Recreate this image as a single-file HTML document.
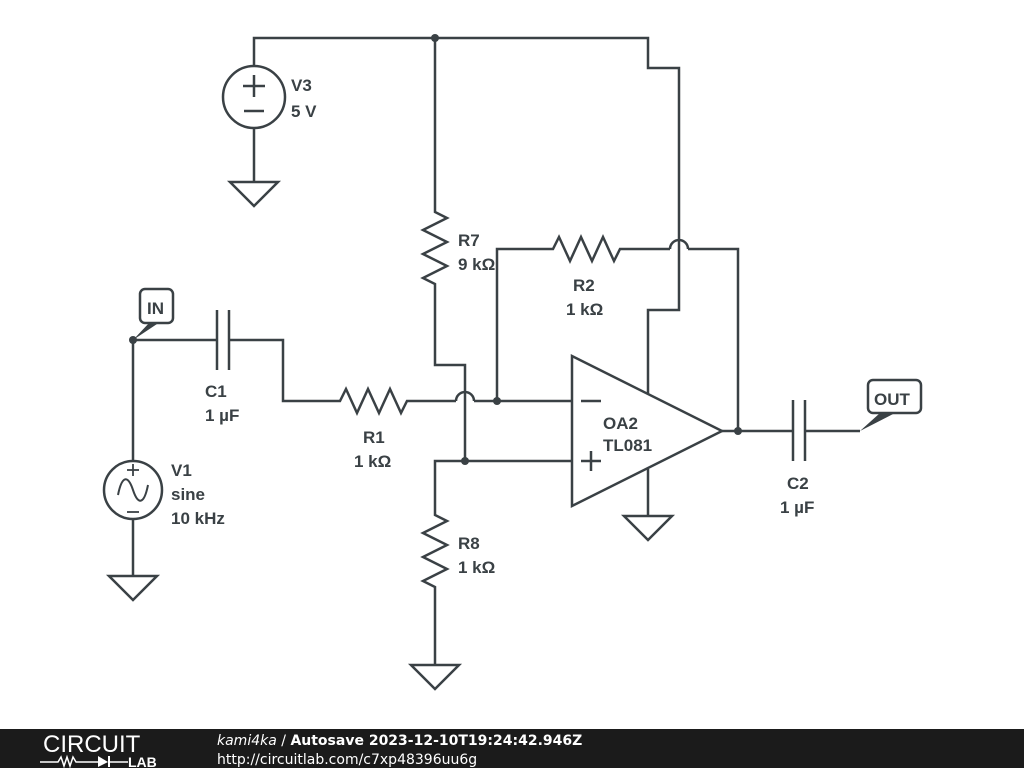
<!DOCTYPE html>
<html><head><meta charset="utf-8"><style>
html,body{margin:0;padding:0;background:#fff;}
svg{display:block;}
text{font-family:"Liberation Sans",sans-serif;font-weight:bold;fill:#3a4145;font-size:17px;}
</style></head><body>
<svg width="1024" height="768" viewBox="0 0 1024 768" xmlns="http://www.w3.org/2000/svg">
<rect width="1024" height="768" fill="#fff"/>
<g stroke="#3a4145" stroke-width="2.5" fill="none" stroke-linejoin="miter">
<polyline points="254,66 254,38 648,38 648,68 679,68 679,310 648,310 648,394"/>
<circle cx="254" cy="97" r="31"/>
<line x1="254" y1="128" x2="254" y2="182"/>
<line x1="243" y1="86" x2="265" y2="86"/><line x1="254" y1="75" x2="254" y2="97"/>
<line x1="244" y1="111" x2="264" y2="111"/>
<polygon points="230,182 278,182 254,206"/>
<polyline points="435,38 435,212 447,218 423,230 447,242 423,254 447,266 423,278 435,284 435,365 465,365 465,461"/>
<polyline points="133,340 217,340"/>
<line x1="217" y1="310" x2="217" y2="370"/><line x1="229" y1="310" x2="229" y2="370"/>
<polyline points="229,340 283,340 283,401 340,401 346,389 357,413 368,389 379,413 390,389 401,413 407,401 456,401"/>
<path d="M456,401 A9,9 0 0 1 474,401"/>
<polyline points="474,401 572,401"/>
<polyline points="497,401 497,249 553,249 559,237 570,261 581,237 592,261 603,237 614,261 620,249 670,249"/>
<path d="M670,249 A9,9 0 0 1 688,249"/>
<polyline points="688,249 738,249 738,431"/>
<polyline points="572,461 435,461 435,515 447,521 423,533 447,545 423,557 447,569 423,581 435,587 435,665"/>
<polygon points="411,665 459,665 435,689"/>
<polygon points="572,356 572,506 722,431"/>
<line x1="581" y1="401" x2="601" y2="401"/>
<line x1="581" y1="461" x2="601" y2="461"/><line x1="591" y1="451" x2="591" y2="471"/>
<line x1="648" y1="469" x2="648" y2="516"/>
<polygon points="624,516 672,516 648,540"/>
<polyline points="722,431 793,431"/>
<line x1="793" y1="400" x2="793" y2="461"/><line x1="805" y1="400" x2="805" y2="461"/>
<polyline points="805,431 860,431"/>
<line x1="133" y1="340" x2="133" y2="461"/>
<circle cx="133" cy="490" r="29"/>
<line x1="133" y1="519" x2="133" y2="576"/>
<polygon points="109,576 157,576 133,600"/>
<path d="M118,495 C122,475 128,475 133,490 C138,505 144,505 148,485" stroke-width="2"/>
<line x1="127" y1="470" x2="139" y2="470" stroke-width="1.8"/><line x1="133" y1="464" x2="133" y2="476" stroke-width="1.8"/>
<line x1="127" y1="512" x2="139" y2="512" stroke-width="1.8"/>
<rect x="140" y="289" width="33" height="34" rx="5" fill="#fff"/>
<rect x="868" y="380" width="53" height="33" rx="5" fill="#fff"/>
</g>
<g fill="#3a4145">
<circle cx="435" cy="38" r="4"/>
<circle cx="133" cy="340" r="4"/>
<circle cx="497" cy="401" r="4"/>
<circle cx="465" cy="461" r="4"/>
<circle cx="738" cy="431" r="4"/>
<polygon points="133,340 150,322 160,322"/>
<polygon points="860,431 880,413 895,413"/>
</g>
<text x="147" y="314">IN</text>
<text x="874" y="405">OUT</text>
<text x="291" y="91">V3</text><text x="291" y="117">5 V</text>
<text x="458" y="246">R7</text><text x="458" y="270">9 kΩ</text>
<text x="573" y="291">R2</text><text x="566" y="315">1 kΩ</text>
<text x="205" y="397">C1</text><text x="205" y="421">1 µF</text>
<text x="363" y="443">R1</text><text x="354" y="467">1 kΩ</text>
<text x="603" y="429">OA2</text><text x="603" y="451">TL081</text>
<text x="171" y="476">V1</text><text x="171" y="500">sine</text><text x="171" y="524">10 kHz</text>
<text x="458" y="549">R8</text><text x="458" y="573">1 kΩ</text>
<text x="787" y="489">C2</text><text x="780" y="513">1 µF</text>
<rect x="0" y="729" width="1024" height="39" fill="#1b1b1b"/>
<text x="43" y="752" style="font-weight:normal;font-size:24px;fill:#fff">CIRCUIT</text>
<g stroke="#fff" stroke-width="1.5" fill="none"><polyline points="40,762 58,762 61,757 64,766 67,757 70,766 73,757 76,762 98,762"/></g>
<polygon points="98,756 98,767 108,762" fill="#fff"/><line x1="109" y1="756" x2="109" y2="767" stroke="#fff" stroke-width="2"/>
<line x1="109" y1="762" x2="128" y2="762" stroke="#fff" stroke-width="1.5"/>
<text x="128" y="767" style="font-size:14px;fill:#fff;font-weight:bold">LAB</text>
<text x="217" y="745" style="font-size:14px;fill:#fff;font-weight:normal;font-family:'DejaVu Sans',sans-serif"><tspan font-style="italic">kami4ka</tspan> / <tspan font-weight="bold">Autosave 2023-12-10T19:24:42.946Z</tspan></text>
<text x="217" y="764" style="font-size:14px;fill:#fff;font-weight:normal;font-family:'DejaVu Sans',sans-serif">http://circuitlab.com/c7xp48396uu6g</text>
</svg>
</body></html>
